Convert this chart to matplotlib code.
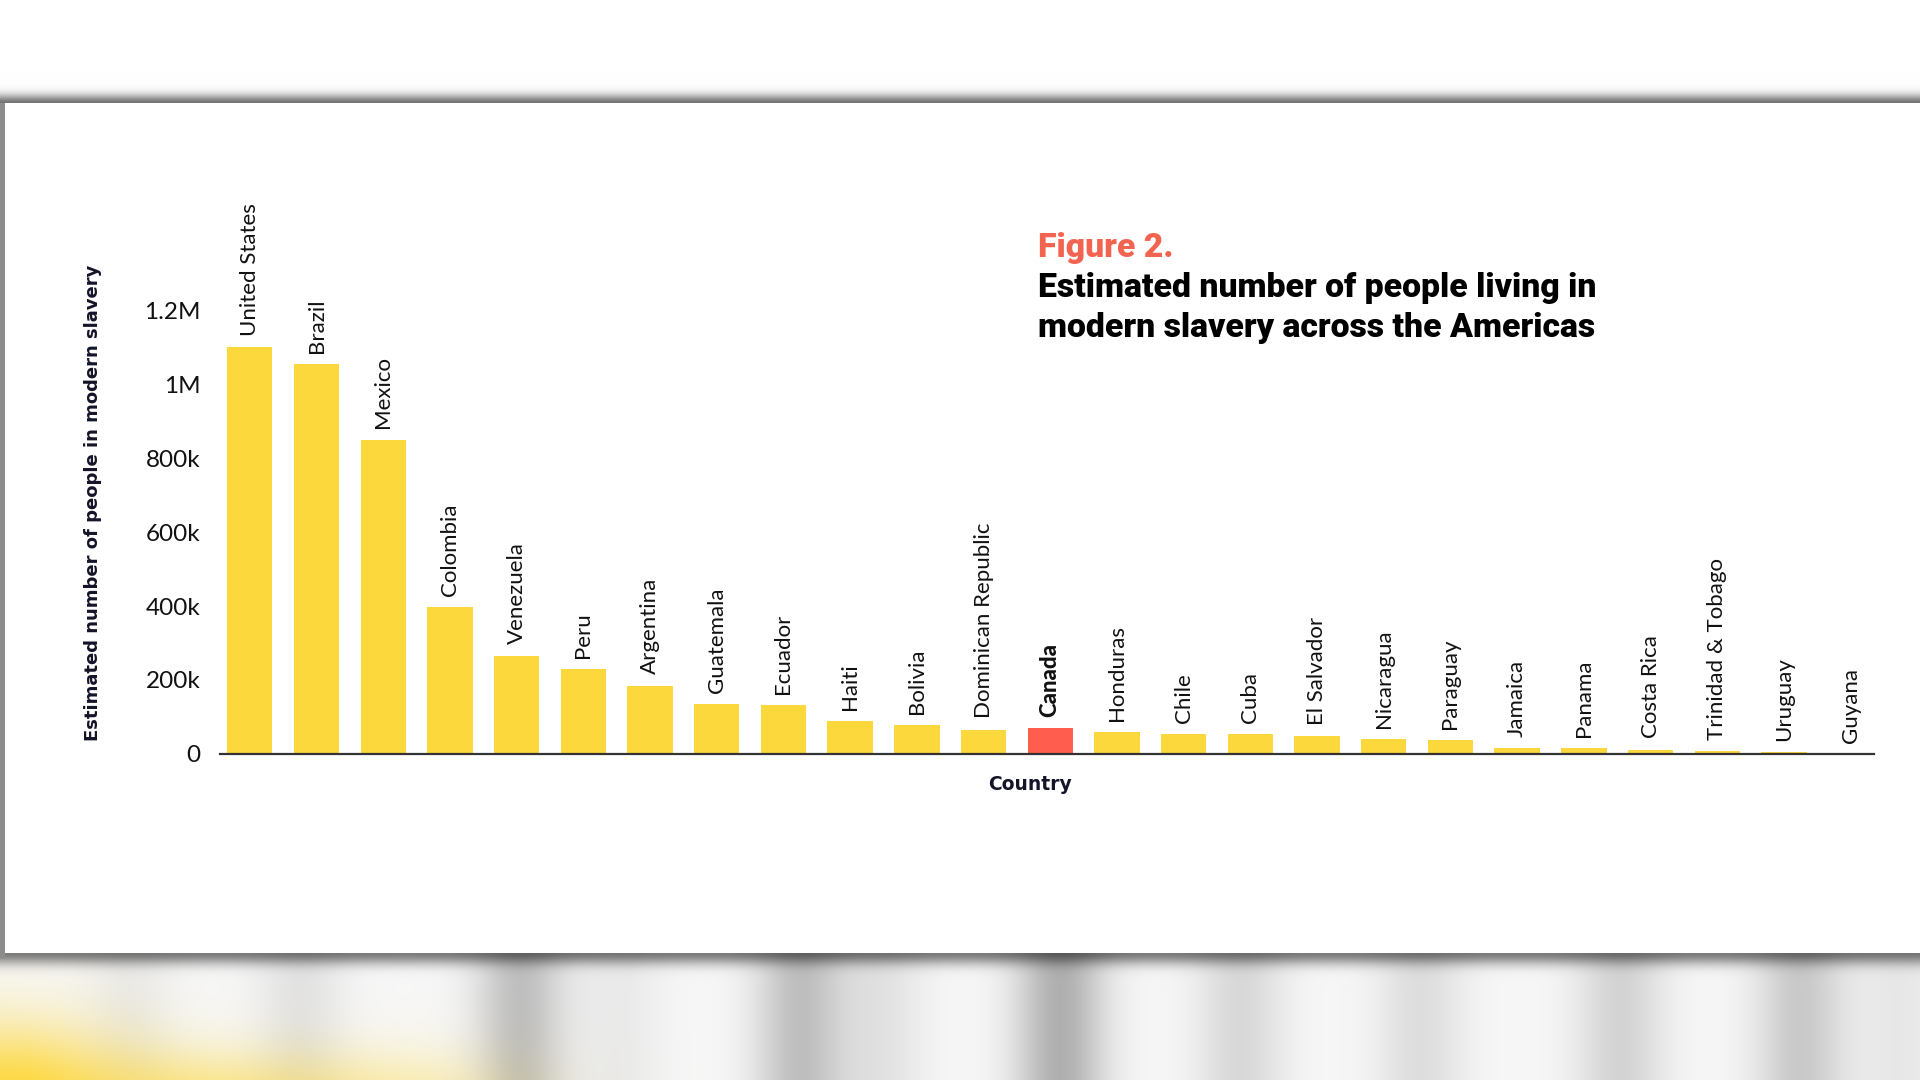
import numpy as np
import matplotlib
matplotlib.use("Agg")
import matplotlib.pyplot as plt

# ---------------- data ----------------
countries = ["United States", "Brazil", "Mexico", "Colombia", "Venezuela", "Peru",
             "Argentina", "Guatemala", "Ecuador", "Haiti", "Bolivia",
             "Dominican Republic", "Canada", "Honduras", "Chile", "Cuba",
             "El Salvador", "Nicaragua", "Paraguay", "Jamaica", "Panama",
             "Costa Rica", "Trinidad & Tobago", "Uruguay", "Guyana"]
values = [1100000, 1053000, 850000, 397000, 266000, 229000,
          185000, 134000, 133000, 90000, 79000,
          66000, 69000, 60000, 54000, 54000,
          49000, 41000, 38000, 16000, 16000,
          12000, 9000, 6000, 1000]
highlight = "Canada"
y_ticks = [0, 200000, 400000, 600000, 800000, 1000000, 1200000]
y_tick_labels = ["0", "200k", "400k", "600k", "800k", "1M", "1.2M"]

YELLOW = "#FDD83D"
CORAL = "#FF5E4E"
TITLE_RED = "#F2644F"

W, H = 1920, 1080
fig = plt.figure(figsize=(W / 100, H / 100), dpi=100)

# ---------------- background (card + shadows + blurred strip) ----------------
bg = fig.add_axes([0, 0, 1, 1])
bg.set_xlim(0, W)
bg.set_ylim(H, 0)
bg.axis("off")
yy, xx = np.mgrid[0:H, 0:W].astype(float)
img = np.ones((H, W, 3))
card_top, card_bot, card_left = 103, 952, 5
d = card_top - yy
top_sh = np.where((d > 0) & (d < 30), 0.55 * np.exp(-(d / 9.0) ** 2), 0)
img *= (1 - top_sh)[..., None]
strip = yy > card_bot
centers = [0, 130, 300, 520, 620, 800, 880, 1060, 1240, 1420, 1620, 1800, 1900]
shade = [0.0, 0.05, 0.08, 0.22, 0.05, 0.22, 0.08, 0.28, 0.12, 0.1, 0.14, 0.18, 0.06]
g = np.zeros(W)
xs = np.arange(W, dtype=float)
for c, s in zip(centers, shade):
    g += s * np.exp(-((xs - c) / 45.0) ** 2)
g = np.clip(g, 0, 0.35)
grey = 0.97 - g
for k in range(3):
    img[..., k] = np.where(strip, grey[None, :] * np.ones((H, 1)), img[..., k])
glow = (0.9 * np.exp(-(((xx - 0) / 120.0) ** 2 + ((yy - 1090) / 70.0) ** 2))
        + 0.55 * np.exp(-(((xx - 200) / 140.0) ** 2 + ((yy - 1100) / 50.0) ** 2))
        + 0.35 * np.exp(-(((xx - 400) / 130.0) ** 2 + ((yy - 1100) / 50.0) ** 2)))
glow = np.clip(glow, 0, 1) * strip
ycol = np.array([253, 216, 61]) / 255.0
img = img * (1 - glow[..., None]) + ycol[None, None, :] * glow[..., None]
d2 = yy - card_bot
bot_sh = np.where((d2 > 0) & (d2 < 40), 0.5 * np.exp(-(d2 / 12.0) ** 2), 0)
img *= (1 - bot_sh)[..., None]
card = (yy >= card_top) & (yy <= card_bot) & (xx >= card_left)
img[card] = 1.0
left = (yy >= card_top) & (yy <= card_bot + 5) & (xx < card_left)
img[left] = 0.55
bg.imshow(img, extent=(0, W, H, 0), aspect="auto", interpolation="bilinear", zorder=0)

# ---------------- chart ----------------
ax_l, ax_r, ax_b, ax_t = 220, 1874, 754, 310
ax = fig.add_axes([ax_l / W, 1 - ax_b / H, (ax_r - ax_l) / W, (ax_b - ax_t) / H])
ax.patch.set_alpha(0)
x = np.arange(len(countries))
colors = [CORAL if c == highlight else YELLOW for c in countries]
ax.bar(x, values, width=0.68, color=colors, zorder=2)
ax.set_xlim(-0.447, len(countries) - 1 + 0.35)
ax.set_ylim(0, 1200000)

for xi, (c, v) in enumerate(zip(countries, values)):
    ax.annotate(c, (xi, v), xytext=(0, 8), textcoords="offset points",
                rotation=90, ha="center", va="bottom", fontsize=16,
                family="Lato", color="#111111",
                fontweight="black" if c == highlight else "normal",
                annotation_clip=False)

ax.set_yticks(y_ticks)
ax.set_yticklabels(y_tick_labels)
ax.tick_params(axis="y", length=0, pad=14, labelsize=17.5, labelcolor="#111111")
for lab in ax.get_yticklabels():
    lab.set_family("Lato")
ax.set_xticks([])
for s in ["top", "right", "left"]:
    ax.spines[s].set_visible(False)
ax.spines["bottom"].set_color("#333333")
ax.spines["bottom"].set_linewidth(1.6)
ax.spines["bottom"].set_zorder(3)

fig.text(93 / W, 1 - 503 / H, "Estimated number of people in modern slavery",
         rotation=90, ha="center", va="center", fontsize=13, fontweight="bold",
         family="DejaVu Sans", color="#141428")
fig.text(1030 / W, 1 - 784 / H, "Country", ha="center", va="center",
         fontsize=13.5, fontweight="bold", family="DejaVu Sans", color="#141428")

TSIZE = 24.3
fig.text(1038 / W, 1 - 248 / H, "Figure 2.", ha="left", va="center",
         fontsize=TSIZE, fontweight="black", family="Roboto", color=TITLE_RED)
fig.text(1038 / W, 1 - 288 / H, "Estimated number of people living in",
         ha="left", va="center", fontsize=TSIZE, fontweight="black",
         family="Roboto", color="#000000")
fig.text(1038 / W, 1 - 328 / H, "modern slavery across the Americas",
         ha="left", va="center", fontsize=TSIZE, fontweight="black",
         family="Roboto", color="#000000")

fig.savefig("out.png", dpi=100)
